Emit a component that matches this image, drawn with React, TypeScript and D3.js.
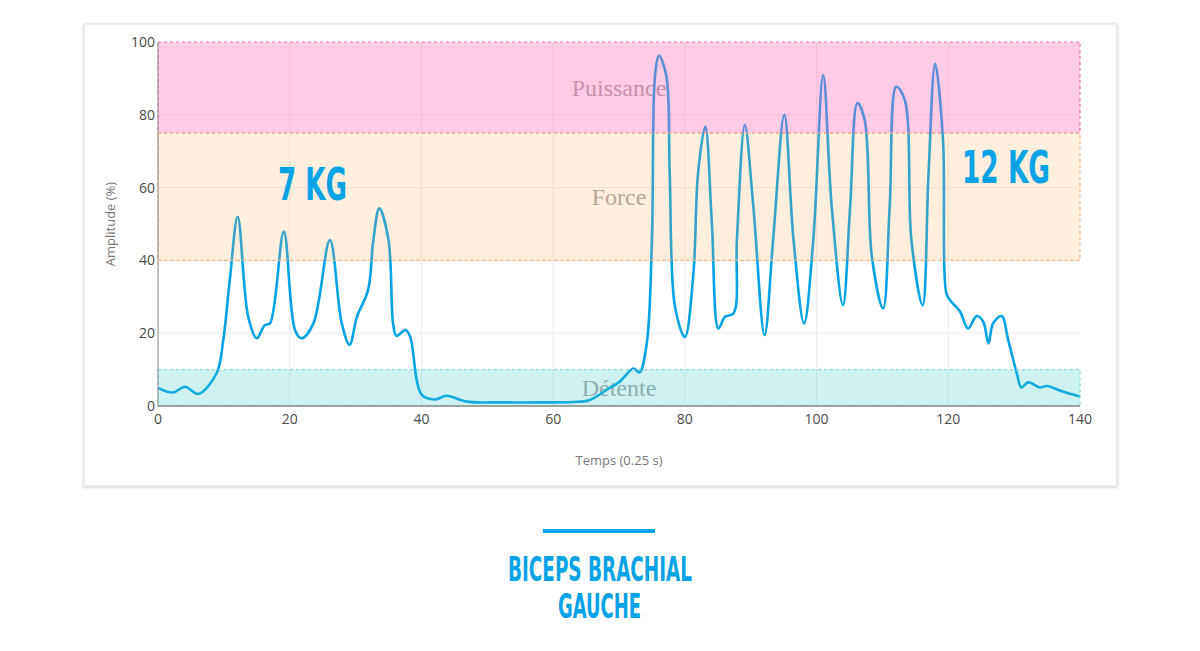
import React from 'react';
import * as d3 from 'd3';

// signal (time in 0.25 s steps, amplitude in %)
const time = [
  0, 2.3, 4.1, 6.1, 8.9, 9.9, 10.9, 12.1, 13.7, 15, 16.2, 17, 19.1, 20.8, 21.8, 23.6,
  26.1, 27.9, 29.1, 30.2, 31.9, 32.7, 33.6, 35, 35.7, 36.2, 37.6, 38.3, 40, 42,
  43.8, 46.9, 52, 58, 63, 65.5, 68.1, 70.1, 72.2, 73.1, 74.2, 75, 75.5, 76.1, 77.2, 77.7,
  78.5, 80, 81.3, 82, 83.1, 84.1, 85.1, 86.1, 87.4, 87.9, 89.1, 90.4, 92.1, 93.4,
  95.1, 96.5, 98.1, 99.5, 101, 102.3, 104, 105.1, 106.2, 107.3, 108.4, 110.1, 111.1,
  112.1, 113.4, 114.4, 116.1, 117, 118, 119.2, 119.7, 120.3, 121.8, 123, 124.3,
  125.3, 126.1, 126.8, 128.1, 129.1, 130.4, 131.1, 132.1, 133.9, 135, 137, 140,
];
const amplitude = [
  5, 3.7, 5.3, 3.3, 9, 18, 34.6, 52, 24.5, 18.6, 22.2, 22.7, 47.9, 20.9, 18.6, 22.7,
  45.6, 22.7, 16.8, 24.5, 31.9, 45.6, 54.3, 45.6, 22.7, 19.3, 20.9, 19, 3.2, 1.8,
  2.8, 1.2, 1, 1, 1.1, 1.6, 4.4, 6.7, 10.3, 9.2, 17, 45.6, 91.4, 96.2, 90.5, 63.9,
  27.3, 19, 36.4, 63.9, 76.7, 50.2, 21.3, 24.5, 25.5, 45.6, 77.2, 54.8, 19.5, 45.6,
  80, 45.6, 22.7, 45.6, 90.9, 54.8, 27.7, 54.8, 83.2, 78.6, 41, 26.8, 54.8,
  87.7, 84, 45.6, 27.7, 63.9, 94, 73, 31, 29, 25.9, 21.3, 24.7,
  23.2, 17.2, 22.7, 24.7, 18.1, 9, 5.1, 6.5, 5.1, 5.5, 4.2, 2.6,
];

const xTicks = [0, 20, 40, 60, 80, 100, 120, 140];
const yTicks = [0, 20, 40, 60, 80, 100];

const zoneNames = ['Puissance', 'Force', 'Détente'];
const zoneLow = [75, 40, 0];
const zoneHigh = [100, 75, 10];
const zoneLabelAt = [87.5, 57.5, 5];

const zoneFill = ['rgb(255,105,180)', 'rgb(250,170,90)', 'rgb(60,200,200)'];
const zoneOpacity = [0.35, 0.2, 0.25];
const zoneStroke = ['#f2709e', '#f7b27c', '#7fd9d9'];

const blue = '#04a3e6';

const App: React.FC = () => {
  const x = d3.scaleLinear().domain([0, 140]).range([158, 1080]);
  const y = d3.scaleLinear().domain([0, 100]).range([406, 42]);

  const pts: [number, number][] = time.map((t, i) => [t, amplitude[i]]);
  const line = d3
    .line<[number, number]>()
    .x((d) => x(d[0]))
    .y((d) => y(d[1]))
    .curve(d3.curveCatmullRom.alpha(0.5));

  const sans = '"Open Sans", "DejaVu Sans", sans-serif';
  const cond = '"DejaVu Sans Condensed", "DejaVu Sans", sans-serif';

  return (
    <svg width={1200} height={651} style={{ position: 'absolute', left: 0, top: 0 }}>
      <defs>
        <filter id="shadow" x="-5%" y="-5%" width="110%" height="110%">
          <feDropShadow dx="0" dy="1" stdDeviation="1.5" floodColor="#000" floodOpacity="0.2" />
        </filter>
      </defs>
      <rect width={1200} height={651} fill="#fff" />
      <rect x={84} y={24} width={1033} height={462} fill="#fff" stroke="#dedede" filter="url(#shadow)" />

      {/* grid */}
      {xTicks.slice(1, -1).map((t) => (
        <line key={'gx' + t} x1={x(t)} x2={x(t)} y1={y(100)} y2={y(0)} stroke="#ececec" />
      ))}
      {yTicks.slice(1, -1).map((v) => (
        <line key={'gy' + v} x1={x(0)} x2={x(140)} y1={y(v)} y2={y(v)} stroke="#ececec" />
      ))}

      {/* zone labels (sit under the tinted bands) */}
      {zoneNames.map((n, i) => (
        <text
          key={n}
          x={x(70)}
          y={y(zoneLabelAt[i])}
          dy="0.35em"
          textAnchor="middle"
          fontFamily='"Liberation Serif", "Times New Roman", serif'
          fontSize={24}
          fill="#a8a8a8"
        >
          {n}
        </text>
      ))}

      <path d={line(pts) ?? ''} fill="none" stroke={blue} strokeWidth={2.6} strokeLinejoin="round" />

      {/* zones drawn over the line */}
      {zoneNames.map((n, i) => (
        <rect
          key={'z' + n}
          x={x(0)}
          y={y(zoneHigh[i])}
          width={x(140) - x(0)}
          height={y(zoneLow[i]) - y(zoneHigh[i])}
          fill={zoneFill[i]}
          fillOpacity={zoneOpacity[i]}
          stroke={zoneStroke[i]}
          strokeWidth={1.2}
          strokeDasharray="3,3"
        />
      ))}

      {/* axes */}
      <line x1={x(0)} x2={x(0)} y1={y(100)} y2={y(0)} stroke="#999" strokeWidth={1.2} />
      <line x1={x(0)} x2={x(140)} y1={y(0)} y2={y(0)} stroke="#888" strokeWidth={1.6} />
      {yTicks.map((v) => (
        <text key={'ty' + v} x={x(0) - 3} y={y(v)} dy="0.35em" textAnchor="end" fontFamily={sans} fontSize={14} fill="#4a4a4a">
          {v}
        </text>
      ))}
      {xTicks.map((t) => (
        <text key={'tx' + t} x={x(t)} y={y(0) + 18} textAnchor="middle" fontFamily={sans} fontSize={14} fill="#4a4a4a">
          {t}
        </text>
      ))}
      <text x={619} y={465} textAnchor="middle" fontFamily={sans} fontSize={13} fill="#777">
        Temps (0.25 s)
      </text>
      <text transform="translate(115,224) rotate(-90)" textAnchor="middle" fontFamily={sans} fontSize={13} fill="#777">
        Amplitude (%)
      </text>

      {/* weight annotations */}
      <text x={278} y={200} fontFamily={cond} fontWeight="bold" fontSize={45} fill={blue} textLength={69} lengthAdjust="spacingAndGlyphs">
        7 KG
      </text>
      <text x={962} y={183} fontFamily={cond} fontWeight="bold" fontSize={45} fill={blue} textLength={88} lengthAdjust="spacingAndGlyphs">
        12 KG
      </text>

      {/* caption */}
      <rect x={543} y={529} width={112} height={4} fill={blue} />
      <text x={508} y={581} fontFamily={cond} fontWeight="bold" fontSize={33} fill={blue} textLength={184} lengthAdjust="spacingAndGlyphs">
        BICEPS BRACHIAL
      </text>
      <text x={558} y={618} fontFamily={cond} fontWeight="bold" fontSize={33} fill={blue} textLength={83} lengthAdjust="spacingAndGlyphs">
        GAUCHE
      </text>
    </svg>
  );
};

export default App;
